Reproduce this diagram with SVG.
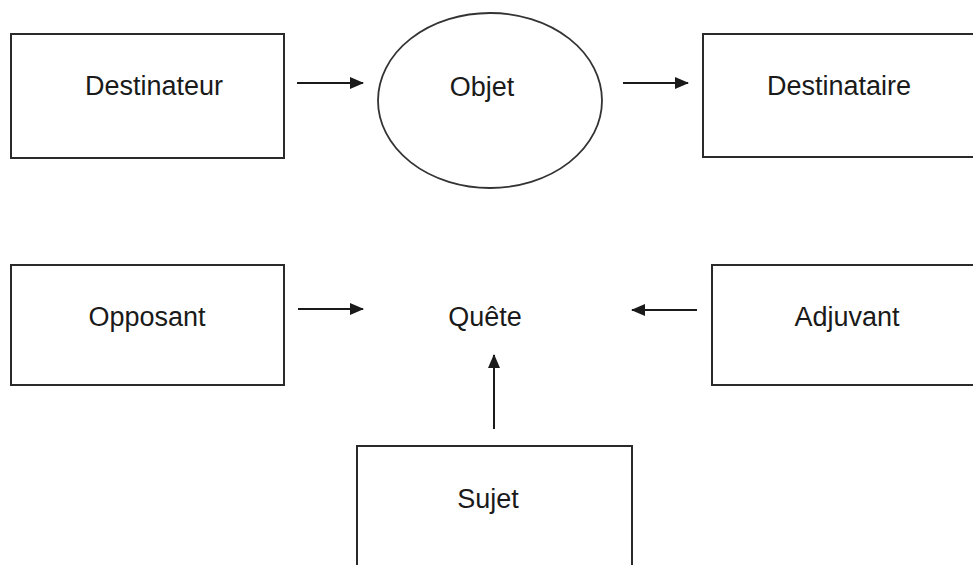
<svg xmlns="http://www.w3.org/2000/svg" width="973" height="565" viewBox="0 0 973 565">
  <style>
    .box { fill: #ffffff; stroke: #2a2a2a; stroke-width: 2; }
    .oval { fill: #ffffff; stroke: #333333; stroke-width: 1.8; }
    .label { font-family: "Liberation Sans", Arial, sans-serif; font-size: 27px; fill: #1a1a1a; text-anchor: middle; }
    .link { stroke: #1a1a1a; stroke-width: 2; fill: none; marker-end: url(#head); }
  </style>
  <defs>
    <marker id="head" viewBox="0 0 14 12" refX="13" refY="6" markerWidth="14" markerHeight="12" markerUnits="userSpaceOnUse" orient="auto">
      <path d="M0,0 L14,6 L0,12 Z" fill="#1a1a1a"/>
    </marker>
  </defs>
  <rect width="973" height="565" fill="#ffffff"/>

  <g id="destinateur">
    <rect class="box" x="11" y="34" width="273" height="124"/>
    <text class="label" x="154" y="95">Destinateur</text>
  </g>
  <g id="objet">
    <ellipse class="oval" cx="490" cy="100.5" rx="112" ry="87.5"/>
    <text class="label" x="482" y="96">Objet</text>
  </g>
  <g id="destinataire">
    <rect class="box" x="703" y="34" width="300" height="123"/>
    <text class="label" x="839" y="95">Destinataire</text>
  </g>
  <g id="opposant">
    <rect class="box" x="11" y="265" width="273" height="120"/>
    <text class="label" x="147" y="326">Opposant</text>
  </g>
  <g id="quete">
    <text class="label" x="485" y="326">Quête</text>
  </g>
  <g id="adjuvant">
    <rect class="box" x="712" y="265" width="300" height="120"/>
    <text class="label" x="847" y="326">Adjuvant</text>
  </g>
  <g id="sujet">
    <rect class="box" x="357" y="446" width="275" height="130"/>
    <text class="label" x="488" y="508">Sujet</text>
  </g>

  <g id="connectors">
    <line class="link" x1="297" y1="83" x2="363" y2="83"/>
    <line class="link" x1="623" y1="83" x2="688" y2="83"/>
    <line class="link" x1="298" y1="309" x2="363" y2="309"/>
    <line class="link" x1="697" y1="310" x2="632" y2="310"/>
    <line class="link" x1="494" y1="429" x2="494" y2="355"/>
  </g>
</svg>
